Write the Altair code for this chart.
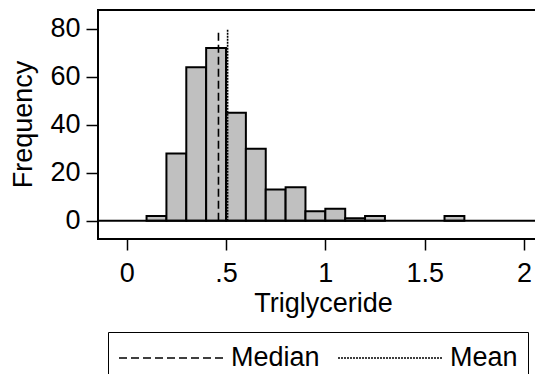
import altair as alt
import pandas as pd

# Histogram bins (Triglyceride) and frequencies
bin_start = [0.1, 0.2, 0.3, 0.4, 0.5, 0.6, 0.7, 0.8, 0.9, 1.0, 1.1, 1.2, 1.6]
bin_end = [0.2, 0.3, 0.4, 0.5, 0.6, 0.7, 0.8, 0.9, 1.0, 1.1, 1.2, 1.3, 1.7]
counts = [2, 28, 64, 72, 45, 30, 13, 14, 4, 5, 1, 2, 2]

# Reference lines
stat_names = ["Median", "Mean"]
stat_values = [0.462, 0.508]
stat_top = [80, 80]

x_ticks = [0, 0.5, 1, 1.5, 2]
x_tick_labels = ["0", ".5", "1", "1.5", "2"]
y_ticks = [0, 20, 40, 60, 80]

FONT = "Liberation Sans"
FS = 27

hist = pd.DataFrame({"start": bin_start, "end": bin_end, "count": counts,
                     "base": [0] * len(counts)})
stats = pd.DataFrame({"stat": stat_names, "value": stat_values, "top": stat_top,
                      "base": [0, 0]})
zero_df = pd.DataFrame({"y": [0]})

label_expr = " : ".join(
    [f"datum.value == {v} ? '{l}'" for v, l in zip(x_ticks, x_tick_labels)]
) + " : datum.label"

x_scale = alt.Scale(domain=[-0.1445, 2.121], nice=False, zero=False)
y_scale = alt.Scale(domain=[-7.6, 87.8], nice=False, zero=False)

x_axis = alt.Axis(
    values=x_ticks, labelExpr=label_expr, grid=False, domain=False,
    tickSize=11, tickWidth=1.5, tickColor="black",
    labelFont=FONT, labelFontSize=FS, labelColor="black", labelPadding=10,
    labelFlush=False, labelOverlap=False,
    title="Triglyceride", titleFont=FONT, titleFontSize=FS, titleFontWeight="normal",
    titleColor="black", titleX=225, titleY=72, titleBaseline="alphabetic", titleAlign="center",
)
y_axis = alt.Axis(
    values=y_ticks, grid=False, domain=False,
    tickSize=12, tickWidth=1.5, tickColor="black",
    labelFont=FONT, labelFontSize=FS, labelColor="black", labelPadding=6,
    labelFlush=False, labelOverlap=False,
    title="Frequency", titleFont=FONT, titleFontSize=FS, titleFontWeight="normal",
    titleColor="black", titleX=-67, titleY=114, titleAngle=270,
    titleBaseline="alphabetic", titleAlign="center",
)

bars = alt.Chart(hist).mark_rect(
    fill="#c0c0c0", stroke="black", strokeWidth=2
).encode(
    x=alt.X("start:Q", scale=x_scale, axis=x_axis),
    x2="end:Q",
    y=alt.Y("count:Q", scale=y_scale, axis=y_axis),
    y2="base:Q",
)

zero_line = alt.Chart(zero_df).mark_rule(color="black", strokeWidth=2).encode(
    y=alt.Y("y:Q", scale=y_scale)
)

lines = alt.Chart(stats).mark_rule(color="black", strokeWidth=1.6).encode(
    x=alt.X("value:Q", scale=x_scale),
    y=alt.Y("base:Q", scale=y_scale),
    y2="top:Q",
    strokeDash=alt.StrokeDash(
        "stat:N",
        scale=alt.Scale(domain=stat_names, range=[[8, 4], [2, 1]]),
        legend=alt.Legend(
            orient="none", legendX=10, legendY=322, direction="horizontal",
            columns=2, title=None,
            # long horizontal line symbol drawn from the symbol's left edge
            symbolType="M-1,0L6.0,0", symbolSize=900,
            symbolStrokeWidth=1.6, symbolStrokeColor="black",
            labelFont=FONT, labelFontSize=FS, labelColor="black",
            labelOffset=81, columnPadding=14, labelLimit=0,
            strokeColor="black", fillColor="white", padding=10,
        ),
    ),
)

chart = alt.layer(bars, zero_line, lines).properties(
    width=450, height=229,
    autosize=alt.AutoSizeParams(type="none"),
    padding={"left": 90, "top": 2, "right": -13, "bottom": 135},
    background="white",
).configure_view(
    stroke="black", strokeWidth=2
)

chart.save("out.html", embed_options={"renderer": "svg", "actions": False})
